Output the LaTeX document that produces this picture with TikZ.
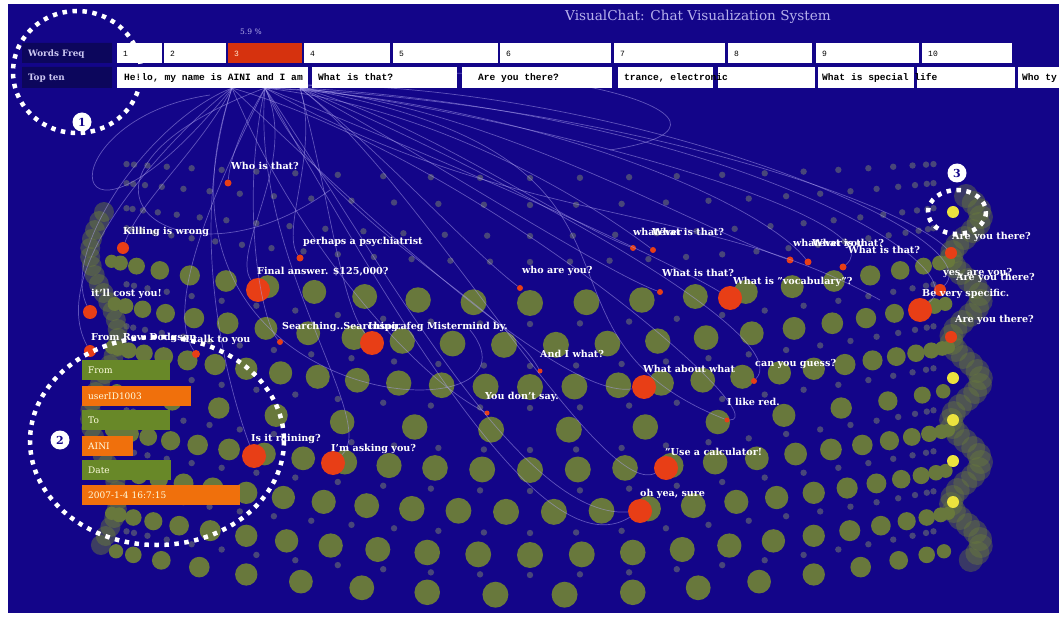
\documentclass[tikz,border=0pt]{standalone}
\usepackage{fontspec}
\setmainfont{DejaVu Serif}
\setmonofont{Liberation Mono}
\definecolor{bgblue}{RGB}{19,5,137}
\definecolor{headnavy}{RGB}{12,6,92}
\definecolor{dotolive}{RGB}{104,120,60}
\definecolor{dimdot}{RGB}{72,70,122}
\definecolor{chatred}{RGB}{232,62,22}
\definecolor{chatyellow}{RGB}{236,226,62}
\definecolor{barorange}{RGB}{240,112,12}
\definecolor{bargreen}{RGB}{104,136,40}
\definecolor{freqred}{RGB}{214,50,14}
\definecolor{curvecol}{RGB}{172,162,240}
\definecolor{titlecol}{RGB}{182,176,236}
\newcommand\chatlbl{\fontsize{9.6}{11}\selectfont\bfseries}
\newcommand\boxfont{\fontsize{9.6}{11}\selectfont\ttfamily\bfseries}
\tikzset{
  lbl/.style={text=white, font=\chatlbl, inner sep=0pt, anchor=base west},
  boxtxt/.style={text=black, font=\boxfont, inner sep=0pt, anchor=base west},
  headlbl/.style={text=titlecol!70!white, font=\fontsize{8.8}{10}\selectfont\bfseries, inner sep=0pt, anchor=base west},
  reddot/.style={circle, fill=chatred, inner sep=0pt, minimum size=#1},
  yeldot/.style={circle, fill=chatyellow, inner sep=0pt, minimum size=12},
  chatline/.style={curvecol, line width=0.7pt, opacity=0.5},
  hilite/.style={white, line width=4.5pt, dash pattern=on 4.5pt off 5.5pt},
  marker/.style={circle, fill=white, text=bgblue, font=\bfseries\fontsize{11}{12}\selectfont, inner sep=0pt, minimum size=19},
  infobar/.style={text=white!88!yellow, font=\fontsize{9}{10}\selectfont, anchor=north west, inner xsep=6pt, inner ysep=0pt,
    text height=9, text depth=3, minimum height=20, text width=#1, align=left}
}
\begin{document}
\begin{tikzpicture}[x=1pt, y=-1pt]
  \useasboundingbox (0,0) rectangle (1059,617);
  \fill[bgblue] (8,4) rectangle (1059,613);
  % small dim dots of the spiral
  \foreach \ym/\dep/\n in {178/14/24, 205/22/26, 236/28/28, 262/34/30, 324/40/24, 366/40/26, 408/40/24, 450/40/26, 491/40/24, 533/42/26, 575/44/24}{
    \foreach \i in {0,...,\n}{
      \pgfmathsetmacro\t{(-1+2*\i/\n)*85}
      \pgfmathsetmacro\s{sin(\t)}
      \fill[dimdot] ({530+405*\s},{\ym-\dep*\s*\s}) circle (3.2);
    }
  }
  % left and right turns
  \foreach \y in {212,221,...,548}
    \fill[dotolive, opacity=0.5] ({104-14*sin((\y-212)*2.2)},\y) circle (10);
  \foreach \y in {196,203,...,560}
    \fill[dotolive, opacity=0.45] ({966+15*sin((\y-196)*4.4)},\y) circle (12);
  % big olive dots, row by row
  \foreach \ym/\dep/\n/\off in {303/42/22/0, 345/42/24/0.5, 387/40/28/0, 430/40/16/0.5, 470/40/26/0, 512/42/26/0.5, 555/42/24/0, 595/45/18/0.5}{
    \pgfmathtruncatemacro\last{\n-2*\off}
    \foreach \i in {0,...,\last}{
      \pgfmathsetmacro\t{(-1+2*(\i+\off)/\n)*85}
      \pgfmathsetmacro\s{sin(\t)}
      \fill[dotolive] ({530+420*\s},{\ym-\dep*\s*\s}) circle ({6+7*cos(\t)});
    }
  }
  % red and yellow messages
  \foreach \nm/\x/\y/\d in {rwho/228/183/7, rkill/123/248/12, rpsy/300/258/7, rcost/90/312/14, rfrom/90/351/12, rtalk/196/354/8,
      rsrch/280/342/6, rwhoare/520/288/6, rwhat1/633/248/6, rwhat2/653/250/6, rthat/660/292/6, rwev1/790/260/7, rwev2/808/262/7,
      rwev3/843/267/7, randi/540/371/5, rdont/487/413/5, rguess/754/381/6, rred/727/420/5, rare1/951/253/12, rbe/940/290/12,
      rare2/951/337/12, rans/258/290/24, rsrchb/372/343/24, rrain/254/456/24, rask/333/463/24, rabout/644/387/24,
      rcalc/666/468/24, roh/640/511/24, rvoc/730/298/24, rspec/920/310/24}
    \node[reddot=\d] (\nm) at (\x,\y) {};
  \foreach \nm/\y in {y1/212, y2/378, y3/420, y4/461, y5/502}
    \node[yeldot] (\nm) at (953,\y) {};
  % threads from the selected word
  \coordinate (hubl) at (232,88);
  \coordinate (hub) at (265,88);
  \coordinate (hubr) at (300,88);
  \foreach \hb/\tgt/\ax/\ay/\bx/\by in {hub/rwho/240/130/230/160, hubl/rkill/200/150/140/200, hubl/rcost/150/120/60/250,
      hub/rans/300/160/230/250, hubr/rpsy/320/150/280/230, hubr/rsrchb/330/200/340/300, hub/rsrch/240/200/260/320,
      hubl/rrain/180/250/240/420, hub/rask/250/260/380/420, hubr/rwhoare/380/150/470/250, hubr/rwhat1/420/120/560/220,
      hub/rwhat2/450/110/600/210, hubr/rthat/400/140/600/270, hub/rvoc/420/150/650/250, hubr/rwev1/500/110/700/230,
      hub/rwev2/520/100/760/200, hubr/rwev3/550/120/900/220, hub/rare1/600/100/900/200, hubl/rabout/350/200/560/400,
      hub/randi/320/220/500/300, hubl/rdont/300/250/420/380, hubr/rcalc/420/180/600/500, hub/roh/380/260/520/520,
      hubr/rguess/450/150/800/330, hubl/rred/480/160/780/420, hub/rtalk/230/160/160/300, hubl/rfrom/200/110/40/260,
      hubr/rspec/700/110/980/260, hubl/rbe/560/60/1000/230}
    \draw[chatline] (\hb) .. controls (\ax,\ay) and (\bx,\by) .. (\tgt);
  \coordinate (loopa) at (330,190);
  \coordinate (loopb) at (610,150);
  \coordinate (loopc) at (880,300);
  \coordinate (loopd) at (210,95);
  \coordinate (loope) at (470,330);
  \draw[chatline] (hub) .. controls (20,180) and (180,300) .. (loopa);
  \draw[chatline] (hubr) .. controls (500,40) and (800,120) .. (loopb);
  \draw[chatline] (hub) .. controls (520,230) and (700,200) .. (loopc);
  \draw[chatline] (hubl) .. controls (60,300) and (40,120) .. (loopd);
  \draw[chatline] (hub) .. controls (450,420) and (560,560) .. (roh);
  \draw[chatline] (hubr) .. controls (700,160) and (500,330) .. (rred);
  \draw[chatline] (hubl) .. controls (120,420) and (560,440) .. (loope);
  % header
  \node[anchor=base west, inner sep=0pt, text=titlecol, font=\fontsize{13.6}{15}\selectfont] (title) at (565,21) {VisualChat: Chat Visualization System};
  \node[anchor=base west, inner sep=0pt, text=titlecol, font=\fontsize{7.5}{9}\selectfont] (pct) at (240,35) {5.9 \%};
  \fill[headnavy] (22,43) rectangle (112,63) (22,67) rectangle (112,88);
  \node[headlbl] (wflab) at (28,57) {Words Freq};
  \node[headlbl] (ttlab) at (28,81) {Top ten};
  \foreach \xa/\xb/\lab in {117/162/1, 164/226/2, 304/390/4, 393/498/5, 500/611/6, 614/725/7, 728/812/8, 816/919/9, 922/1012/10}{
    \fill[white] (\xa,43) rectangle (\xb,63);
    \node[boxtxt, font=\fontsize{8}{9}\selectfont\ttfamily] (wf\lab) at ({\xa+6},57) {\lab};
  }
  \fill[freqred] (228,43) rectangle (302,63);
  \node[boxtxt, text=white!80!orange, font=\fontsize{8}{9}\selectfont\ttfamily] (wf3) at (234,57) {3};
  \foreach \xa/\xb in {117/308, 312/457, 462/612, 618/713, 718/815, 818/914, 917/1015, 1018/1059}
    \fill[white] (\xa,67) rectangle (\xb,88);
  \foreach \nm/\x/\txt in {tt1/124/{He!lo, my name is AINI and I am}, tt2/318/{What is that?}, tt3/478/{Are you there?},
      tt4/624/{trance, electronic}, tt6/822/{What is special life}, tt8/1022/{Who ty}}
    \node[boxtxt] (\nm) at (\x,81) {\txt};
  % chat messages
  \foreach \nm/\x/\y/\txt in {lwho/231/170/{Who is that?}, lkill/123/235/{Killing is wrong}, lpsy/303/245/{perhaps a psychiatrist},
      lans/257/275/{Final answer. \$125,000?}, lcost/91/297/{it'll cost you!}, lfrom/91/340/{From Rev. Dodgson}, ltalk/185/342/{I talk to you},
      lsrch/282/329/{Searching..Searching..}, lsrchb/368/329/{Inspirafeg Mistermind by.}, lwhoare/522/274/{who are you?},
      lwhat1/633/236/{whatever}, lwhat2/652/236/{What is that?}, lthat/662/277/{What is that?}, lvoc/733/285/{What is "vocabulary"?},
      lwev/793/247/{whatever you}, lwev2/812/247/{What is that?}, lwev3/848/254/{What is that?},
      lare1/952/240/{Are you there?}, lyes/943/276/{yes, are you?}, lyesb/956/280/{Are you there?}, lbe/922/297/{Be very specific.},
      lare2/955/322/{Are you there?}, landi/540/357/{And I what?}, labout/643/372/{What about what}, lguess/755/366/{can you guess?},
      ldont/485/399/{You don't say.}, lred/727/405/{I like red.}, lrain/251/441/{Is it raining?}, lask/331/451/{I'm asking you?},
      lcalc/665/455/{"Use a calculator!}, loh/640/496/{oh yea, sure}}
    \node[lbl] (\nm) at (\x,\y) {\txt};
  % message details
  \node[infobar=76, fill=bargreen] (bfrom) at (82,360) {From};
  \node[infobar=97, fill=barorange] (buser) at (82,386) {userID1003};
  \node[infobar=76, fill=bargreen] (bto) at (82,410) {To};
  \node[infobar=39, fill=barorange] (baini) at (82,436) {AINI};
  \node[infobar=77, fill=bargreen] (bdate) at (82,460) {Date};
  \node[infobar=146, fill=barorange] (btime) at (82,485) {2007-1-4 16:7:15};
  % highlights
  \draw[hilite] (77,72) ellipse [x radius=64, y radius=61];
  \draw[hilite] (157,441) ellipse [x radius=127, y radius=104];
  \draw[hilite] (957,212) ellipse [x radius=29, y radius=22];
  \node[marker] (m1) at (82,122) {1};
  \node[marker] (m2) at (60,440) {2};
  \node[marker] (m3) at (957,173) {3};
\end{tikzpicture}
\end{document}
